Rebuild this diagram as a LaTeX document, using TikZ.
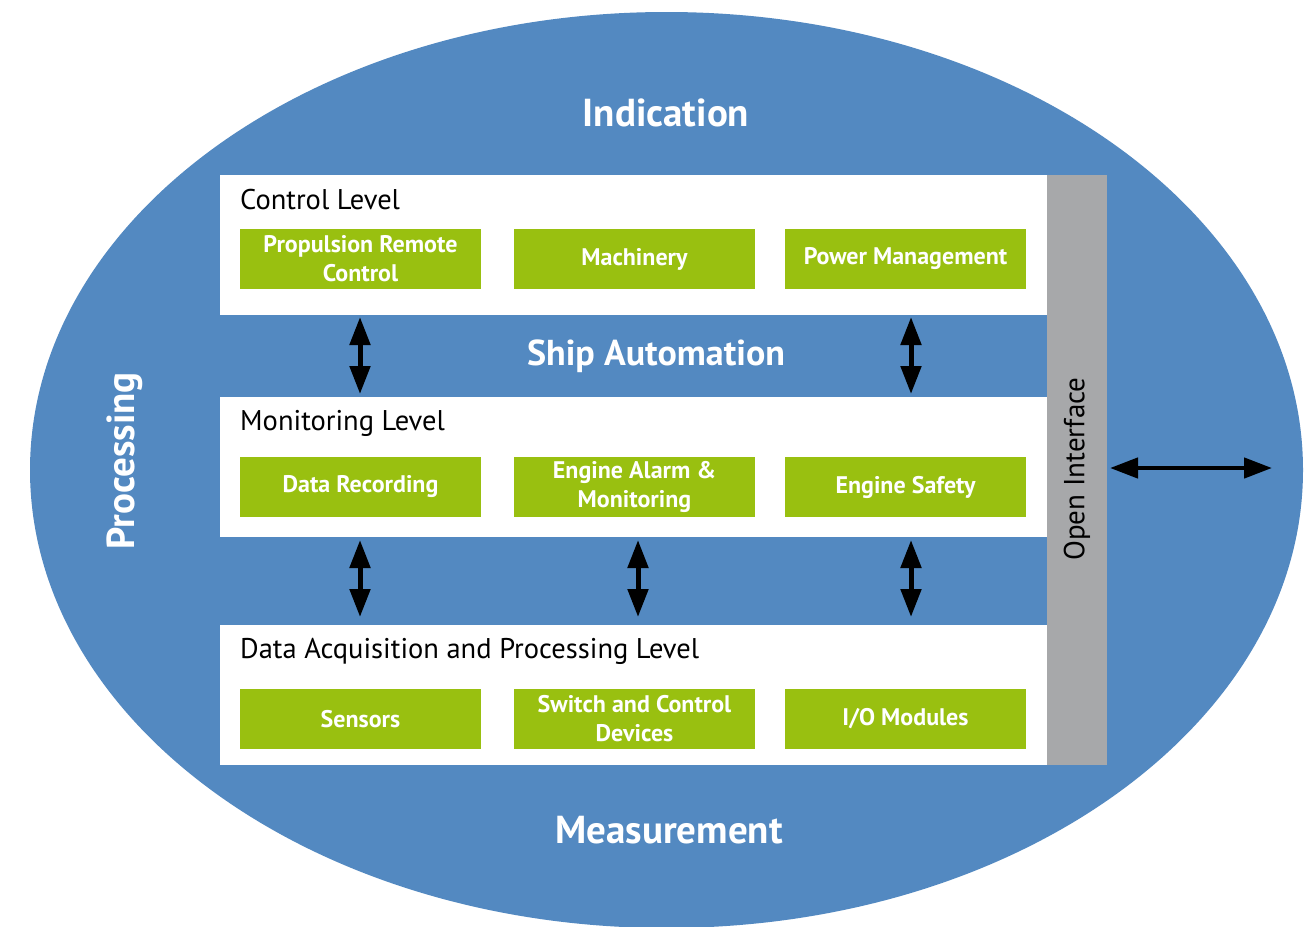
\documentclass[tikz,border=0pt]{standalone}
\usepackage{fontspec}
\setmainfont{PT Sans}
\usetikzlibrary{arrows.meta}
\definecolor{shipblue}{RGB}{83,137,193}
\definecolor{boxgreen}{RGB}{153,192,16}
\definecolor{bargray}{RGB}{167,168,170}
\begin{document}
\begin{tikzpicture}[x=1pt,y=-1pt,
  panel/.style={fill=white, draw=none, minimum width=827pt, minimum height=140pt, anchor=north west, inner sep=0pt, outer sep=0pt},
  gbox/.style={fill=boxgreen, minimum width=241pt, minimum height=60pt, anchor=north west, inner sep=0pt, outer sep=0pt, text=white, font=\fontsize{24}{29}\selectfont\bfseries, align=center},
  lvl/.style={anchor=base west, font=\fontsize{28.5}{32}\selectfont, text=black, inner sep=0pt},
  big/.style={text=white, font=\fontsize{39}{42}\selectfont\bfseries, inner sep=0pt},
  dbl/.style={{Triangle[length=28pt,width=20pt]}-{Triangle[length=28pt,width=20pt]}, line width=5pt}]
\useasboundingbox (0,0) rectangle (1316,926);
\clip (0,0) rectangle (1316,926);
\fill[shipblue] (666.5,470) ellipse [x radius=636.5, y radius=458];
% panels
\node[panel] (ctrl) at (220,175) {};
\node[panel] (mon) at (220,397) {};
\node[panel] (daq) at (220,625) {};
\node[fill=bargray, minimum width=60pt, minimum height=590pt, anchor=north west, inner sep=0pt, outer sep=0pt] (oi) at (1047,175) {};
\node[rotate=90, font=\fontsize{29}{32}\selectfont, text=black, inner sep=0pt] (oitext) at (1077,469) {Open Interface};
% level labels
\node[lvl] (ctrlt) at (240,209) {Control Level};
\node[lvl] (mont) at (240,430) {Monitoring Level};
\node[lvl] (daqt) at (240,658) {Data Acquisition and Processing Level};
% green boxes
\node[gbox] (prc) at (240,229) {Propulsion Remote\\Control};
\node[gbox] (mach) at (514,229) {Machinery};
\node[gbox] (pm) at (785,229) {Power Management};
\node[gbox] (dr) at (240,457) {Data Recording};
\node[gbox] (eam) at (514,457) {Engine Alarm \&\\Monitoring};
\node[gbox] (es) at (785,457) {Engine Safety};
\node[gbox] (sen) at (240,689) {Sensors};
\node[gbox] (scd) at (514,689) {Switch and Control\\Devices};
\node[gbox] (io) at (785,689) {I/O Modules};
% big labels
\node[big] (ind) at (666,113) {Indication};
\node[big, font=\fontsize{36}{40}\selectfont\bfseries] (sa) at (656,356) {Ship Automation};
\node[big] (meas) at (669,830) {Measurement};
\node[big, rotate=90] (proc) at (125,461) {Processing};
% arrows
\coordinate (a1t) at (360,317); \coordinate (a1b) at (360,394);
\coordinate (a2t) at (911,317); \coordinate (a2b) at (911,394);
\coordinate (b1t) at (360,540); \coordinate (b1b) at (360,617);
\coordinate (b2t) at (638,540); \coordinate (b2b) at (638,617);
\coordinate (b3t) at (911,540); \coordinate (b3b) at (911,617);
\coordinate (ext) at (1272,468);
\draw[dbl] (a1t) -- (a1b);
\draw[dbl] (a2t) -- (a2b);
\draw[dbl] (b1t) -- (b1b);
\draw[dbl] (b2t) -- (b2b);
\draw[dbl] (b3t) -- (b3b);
\draw[dbl, line width=4.5pt, shorten <=3pt] (oi.east |- ext) -- (ext);
\end{tikzpicture}
\end{document}
